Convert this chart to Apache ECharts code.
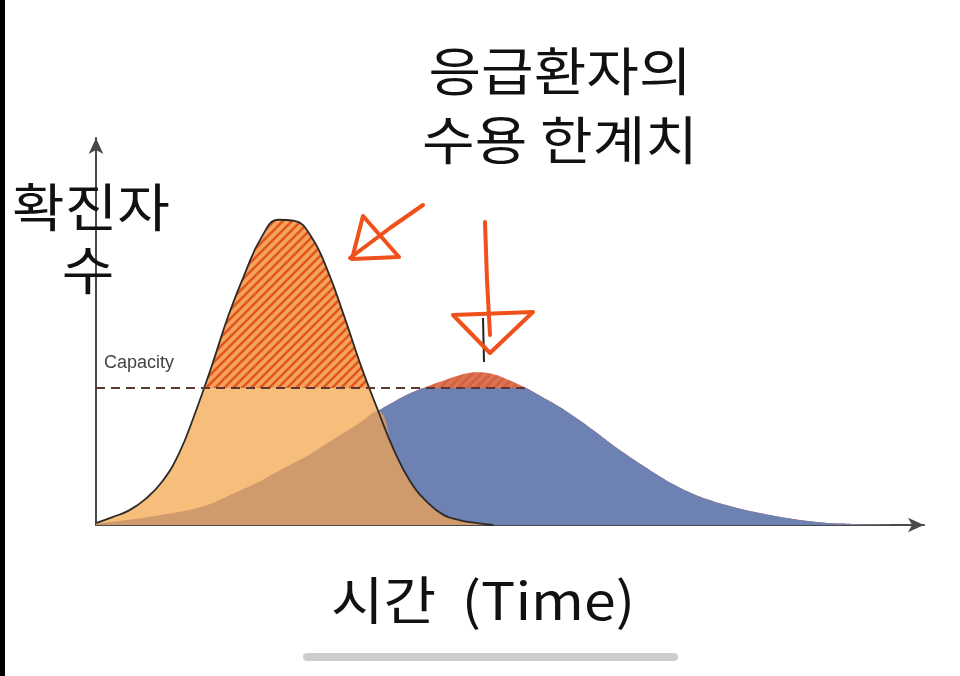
<!DOCTYPE html>
<html>
<head>
<meta charset="utf-8">
<script src="https://cdn.jsdelivr.net/npm/echarts@6/dist/echarts.min.js"></script>
<style>html,body{margin:0;padding:0;background:#fff;}#c{width:960px;height:676px;}</style>
</head>
<body>
<div id="c"></div>
<script>
// ---- data ----
const time = [0,2,4,6,8,10,12,14,16,18,20,22,24,26,28,30,32,34,36,38,40,42,44,46,48,50,52,54,56,58,60,62,64,66,68,70,72,74,76,78,80,82,84,86,88,90,92,94,96];
const unmitigated = [0.5,2.0,3.7,6.6,11.0,18.0,28.5,40.4,53.1,63.8,72.9,77.3,77.0,73.0,64.3,52.7,40.3,29.3,18.9,10.9,5.8,2.5,1.2,0.5,0];
const mitigated = [0.3,0.8,1.3,1.9,2.6,3.3,4.2,5.5,7.4,9.3,11.3,13.6,15.8,18.1,20.8,23.4,26.1,28.8,31.2,33.4,35.1,36.6,38.0,38.7,38.2,36.6,34.6,32.3,29.9,27.1,24.1,20.9,17.9,15.1,12.4,10.0,8.0,6.4,5.1,4.0,3.1,2.3,1.6,1.0,0.6,0.35,0.2,0.1,0];
const capacity = 34.7;
const capacityEnd = 52;
const titleLines = ['응급환자의', '수용 한계치'];
const yLabelLines = ['확진자', '수'];
const xLabel = '시간  (Time)';
const capacityLabel = 'Capacity';

// ---- layout ----
const W = 960, H = 676;
const gLeft = 96, gRight = 36, gTop = 138, gBottom = 151;
const yMax = 98, xMax = 100;
const plotH = H - gTop - gBottom;
const capH = capacity / yMax * plotH;

function pairs(vals) { return vals.map((v, i) => [time[i], v]); }
const overlap = unmitigated.map((v, i) => Math.min(v, mitigated[i]));

function stripes(bg, fg, size, w) {
  const c = document.createElement('canvas');
  c.width = c.height = size;
  const g = c.getContext('2d');
  g.fillStyle = bg; g.fillRect(0, 0, size, size);
  g.strokeStyle = fg; g.lineWidth = w;
  g.beginPath();
  g.moveTo(0, size); g.lineTo(size, 0);
  g.moveTo(-size / 2, size / 2); g.lineTo(size / 2, -size / 2);
  g.moveTo(size / 2, size * 1.5); g.lineTo(size * 1.5, size / 2);
  g.stroke();
  return { image: c, repeat: 'repeat' };
}

const hatchOrange = stripes('#F4A25C', '#E2561C', 9, 2.6);
const hatchRed = stripes('#DC7352', '#D3603F', 9, 2.6);

const chart = echarts.init(document.getElementById('c'), null, { renderer: 'canvas' });
const axisLine = { show: true, symbol: ['none', 'arrow'], symbolSize: [11, 16], lineStyle: { color: '#4a4a4a', width: 2 } };
const area = (name, data, grid, color, z) => ({
  name, type: 'line', xAxisIndex: grid, yAxisIndex: grid, data: pairs(data),
  smooth: 0.45, showSymbol: false, silent: true, z,
  lineStyle: { width: 0 }, areaStyle: { color, opacity: 1 }
});
const FONT = '"Noto Sans CJK KR", sans-serif';
const bigText = (text, x, y) => ({
  type: 'text', x, y, scaleX: 1.1, z: 100,
  style: { text, x: 0, y: 0, align: 'center', verticalAlign: 'middle', fontSize: 52, fontFamily: FONT, fill: '#111' }
});
const redStroke = { stroke: '#F0501A', lineWidth: 4, lineCap: 'round', lineJoin: 'round', fill: null };

chart.setOption({
  animation: false,
  backgroundColor: '#ffffff',
  grid: [
    { left: gLeft, right: gRight, top: gTop, bottom: gBottom },
    { left: gLeft, right: gRight, bottom: gBottom, height: capH }
  ],
  xAxis: [
    { type: 'value', min: 0, max: xMax, gridIndex: 0, axisLine, axisTick: { show: false }, axisLabel: { show: false }, splitLine: { show: false } },
    { type: 'value', min: 0, max: xMax, gridIndex: 1, show: false }
  ],
  yAxis: [
    { type: 'value', min: 0, max: yMax, gridIndex: 0, axisLine, axisTick: { show: false }, axisLabel: { show: false }, splitLine: { show: false } },
    { type: 'value', min: 0, max: capacity, gridIndex: 1, show: false }
  ],
  series: [
    area('mitigated-over', mitigated, 0, hatchRed, 1),
    area('unmitigated-over', unmitigated, 0, hatchOrange, 2),
    area('mitigated', mitigated, 1, '#6D81B3', 3),
    area('unmitigated', unmitigated, 1, '#F6BE7A', 4),
    area('overlap', overlap, 1, '#CF9B6C', 5),
    {
      name: 'outline', type: 'line', data: pairs(unmitigated), smooth: 0.45, showSymbol: false, silent: true, z: 6,
      lineStyle: { color: '#2e2a28', width: 1.8 }
    },
    {
      name: 'capacity', type: 'line', data: [[0, capacity], [capacityEnd, capacity]], showSymbol: false, silent: true, z: 7,
      lineStyle: { color: '#5e3634', width: 2, type: [9, 6] }
    }
  ],
  graphic: [
    { type: 'rect', shape: { x: 0, y: 0, width: 5, height: H }, style: { fill: '#000' }, z: 100 },
    { type: 'rect', shape: { x: 303, y: 653, width: 375, height: 8, r: 4 }, style: { fill: '#cdcdcd' }, z: 100 },
    bigText(titleLines[0], 560, 71),
    bigText(titleLines[1], 560, 140),
    bigText(yLabelLines[0], 91, 207),
    bigText(yLabelLines[1], 88, 270),
    bigText(xLabel, 483, 600),
    { type: 'text', z: 100, style: { text: capacityLabel, x: 104, y: 363, align: 'left', verticalAlign: 'middle', fontSize: 18, fontFamily: 'Arial, sans-serif', fill: '#444' } },
    { type: 'polyline', shape: { points: [[483, 318], [484, 362]] }, style: { stroke: '#222', lineWidth: 2 }, z: 100 },
    { type: 'polyline', shape: { points: [[423, 205], [390, 228], [350, 258]] }, style: redStroke, z: 101 },
    { type: 'polyline', shape: { points: [[363, 216], [352, 259], [399, 257], [363, 216]] }, style: redStroke, z: 101 },
    { type: 'polyline', shape: { points: [[485, 222], [487, 280], [490, 335]] }, style: redStroke, z: 101 },
    { type: 'polyline', shape: { points: [[453, 315], [533, 312], [490, 353], [453, 315]] }, style: redStroke, z: 101 }
  ]
});
</script>
</body>
</html>
